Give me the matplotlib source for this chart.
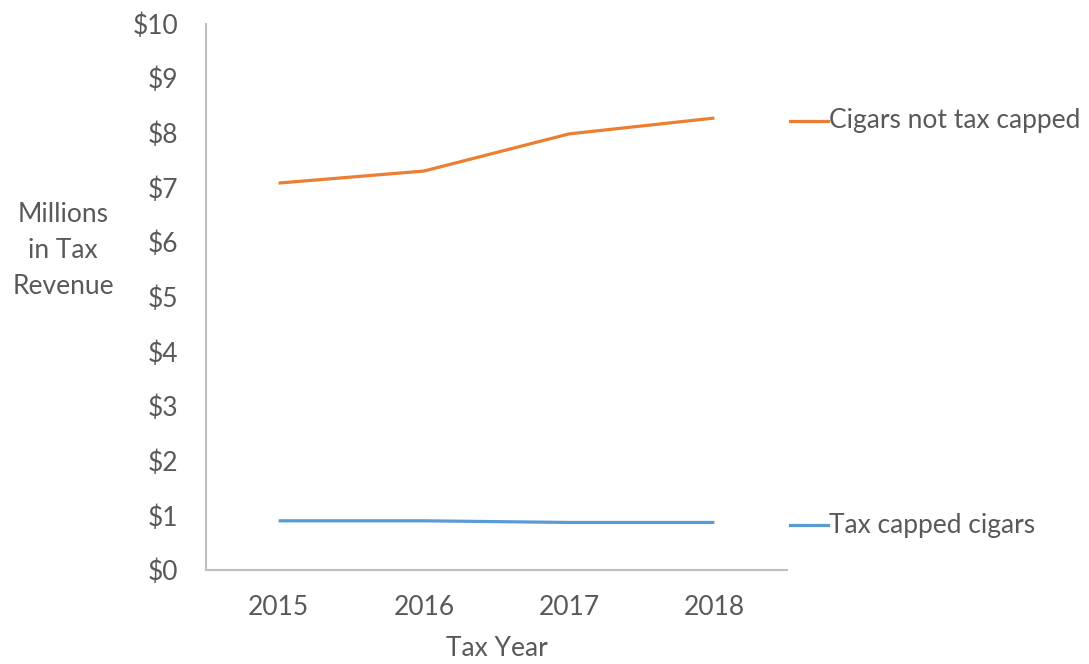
import matplotlib
matplotlib.use("Agg")
import matplotlib.pyplot as plt
from matplotlib.lines import Line2D
from matplotlib.ticker import FuncFormatter

years = ["2015", "2016", "2017", "2018"]
not_capped = [7.08, 7.30, 7.98, 8.27]
capped = [0.90, 0.90, 0.87, 0.87]

ORANGE = "#ED7D31"
BLUE = "#5B9BD5"
TEXT = "#595959"
AXIS = "#BFBFBF"
FS = 19

plt.rcParams["font.family"] = ["Lato", "DejaVu Sans"]

fig = plt.figure(figsize=(10.89, 6.64), dpi=100)
ax = fig.add_axes([206 / 1089, 1 - 570 / 664, (787 - 206) / 1089, (570 - 23.5) / 664])

x = range(len(years))
ax.plot(x, not_capped, color=ORANGE, lw=2.3, solid_capstyle="butt")
ax.plot(x, capped, color=BLUE, lw=2.3, solid_capstyle="butt")

ax.set_xlim(-0.5, 3.5)
ax.set_ylim(0, 10)
ax.set_xticks(list(x))
ax.set_xticklabels(years)
ax.set_yticks(range(0, 11))
ax.yaxis.set_major_formatter(FuncFormatter(lambda v, p: f"${v:.0f}"))
ax.tick_params(length=0, labelsize=FS, labelcolor=TEXT)
ax.tick_params(axis="x", pad=18)
ax.tick_params(axis="y", pad=20)

for s in ["top", "right"]:
    ax.spines[s].set_visible(False)
for s in ["left", "bottom"]:
    ax.spines[s].set_color(AXIS)
    ax.spines[s].set_linewidth(1.5)

fig.text(497 / 1089, 1 - 648 / 664, "Tax Year", ha="center", va="center",
         fontsize=FS, color=TEXT)
fig.text(63 / 1089, 1 - 250 / 664, "Millions\nin Tax\nRevenue", ha="center", va="center",
         fontsize=FS, color=TEXT, linespacing=1.55)

# series labels on the right
for yv, name, col in [(not_capped[-1] - 0.05, "Cigars not tax capped", ORANGE),
                      (capped[-1] - 0.05, "Tax capped cigars", BLUE)]:
    ax.add_line(Line2D([3.52, 3.78], [yv, yv], color=col, lw=2.3, clip_on=False))
    ax.text(3.79, yv, name, fontsize=FS, color=TEXT, va="center", ha="left", clip_on=False)

fig.savefig("out.png", dpi=100, facecolor="white")
